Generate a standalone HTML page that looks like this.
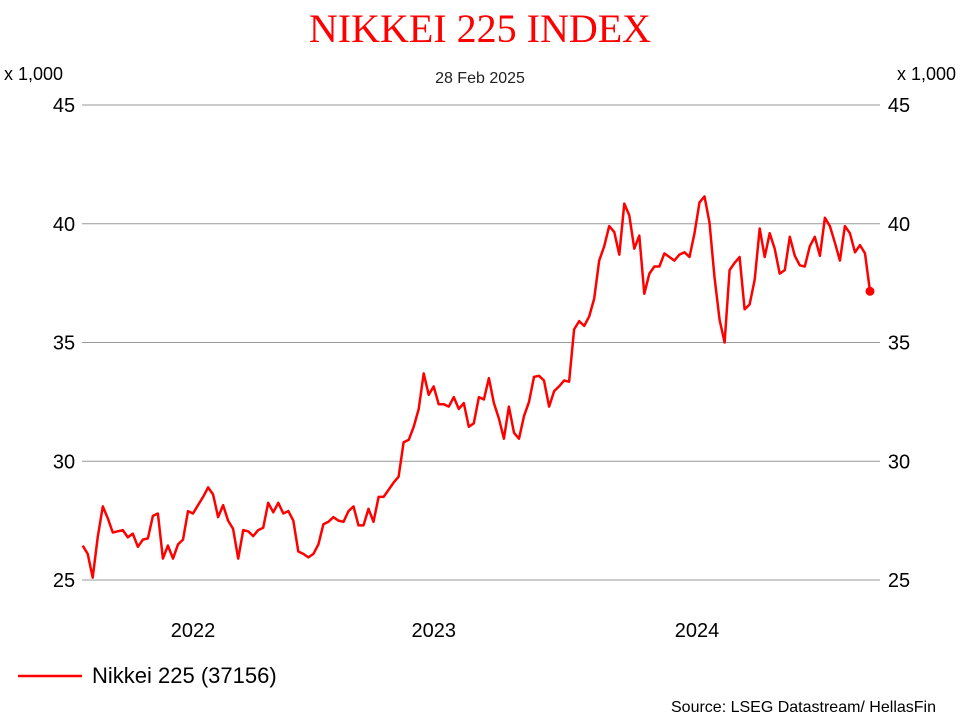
<!DOCTYPE html>
<html><head><meta charset="utf-8">
<style>
body{margin:0;background:#fff;}
svg{display:block;font-family:"Liberation Sans",sans-serif;}
</style></head>
<body>
<svg id="chart" width="960" height="720" viewBox="0 0 960 720">
<text x="480" y="42" text-anchor="middle" font-family="Liberation Serif, serif" font-size="40" fill="#ff0000">NIKKEI 225 INDEX</text>
<text x="480" y="83" text-anchor="middle" font-size="16" fill="#222">28 Feb 2025</text>
<text x="4" y="80" font-size="18" fill="#000">x 1,000</text>
<text x="956" y="80" text-anchor="end" font-size="18" fill="#000">x 1,000</text>
<g id="grid"></g>
<g id="series"></g>
<line x1="18" y1="676" x2="82" y2="676" stroke="#ff0000" stroke-width="2.5"/>
<text x="92" y="683" font-size="22" fill="#000">Nikkei 225 (37156)</text>
<text x="936" y="712" text-anchor="end" font-size="16" fill="#000">Source: LSEG Datastream/ HellasFin</text>
</svg>
<script>
const yTicks = [25, 30, 35, 40, 45];
const yearLabels = ["2022", "2023", "2024"];
const yearIndex = [22, 70, 122.5];
const values = [26.45,26.1,25.1,26.8,28.1,27.6,27.0,27.05,27.1,26.8,26.95,26.4,26.7,26.75,27.7,27.8,25.9,26.45,25.9,26.5,26.7,27.9,27.8,28.15,28.5,28.9,28.6,27.65,28.15,27.5,27.15,25.9,27.1,27.05,26.85,27.1,27.2,28.25,27.85,28.25,27.8,27.9,27.5,26.2,26.1,25.95,26.1,26.5,27.35,27.45,27.65,27.5,27.45,27.9,28.1,27.3,27.3,28.0,27.45,28.5,28.5,28.8,29.1,29.35,30.8,30.9,31.45,32.2,33.7,32.8,33.15,32.4,32.4,32.3,32.7,32.2,32.45,31.45,31.6,32.7,32.6,33.5,32.45,31.8,30.95,32.3,31.2,30.95,31.9,32.5,33.55,33.6,33.4,32.3,32.95,33.15,33.4,33.35,35.55,35.9,35.7,36.1,36.85,38.45,39.05,39.9,39.65,38.7,40.85,40.35,38.95,39.5,37.05,37.9,38.2,38.2,38.75,38.6,38.45,38.7,38.8,38.6,39.6,40.9,41.15,40.05,37.75,35.95,35.0,38.05,38.35,38.6,36.4,36.6,37.65,39.8,38.6,39.6,38.95,37.9,38.05,39.45,38.65,38.25,38.2,39.05,39.45,38.65,40.25,39.9,39.2,38.45,39.9,39.6,38.8,39.1,38.75,37.156];

const NS = "http://www.w3.org/2000/svg";
const X0 = 82.7, X1 = 870, Y25 = 580, Y45 = 105;
const xScale = i => X0 + i * (X1 - X0) / (values.length - 1);
const yScale = v => Y25 - (v - 25) * (Y25 - Y45) / 20;
const grid = document.getElementById("grid");
const series = document.getElementById("series");

yTicks.forEach(t => {
  const y = yScale(t);
  const ln = document.createElementNS(NS, "line");
  ln.setAttribute("x1", 82); ln.setAttribute("x2", 880);
  ln.setAttribute("y1", y); ln.setAttribute("y2", y);
  ln.setAttribute("stroke", "#999"); ln.setAttribute("stroke-width", "1");
  
  
  grid.appendChild(ln);
  const tl = document.createElementNS(NS, "text");
  tl.setAttribute("x", 64); tl.setAttribute("y", y + 7);
  tl.setAttribute("text-anchor", "middle"); tl.setAttribute("font-size", "20");
  tl.textContent = t;
  
  
  grid.appendChild(tl);
  const tr = document.createElementNS(NS, "text");
  tr.setAttribute("x", 899); tr.setAttribute("y", y + 7);
  tr.setAttribute("text-anchor", "middle"); tr.setAttribute("font-size", "20");
  tr.textContent = t;
  
  
  grid.appendChild(tr);
});

yearLabels.forEach((lab, k) => {
  const t = document.createElementNS(NS, "text");
  t.setAttribute("x", xScale(yearIndex[k])); t.setAttribute("y", 637);
  t.setAttribute("text-anchor", "middle"); t.setAttribute("font-size", "20");
  t.textContent = lab;
  
  
  grid.appendChild(t);
});

const pts = values.map((v, i) => xScale(i).toFixed(1) + "," + yScale(v).toFixed(1)).join(" ");
const pl = document.createElementNS(NS, "polyline");
pl.setAttribute("points", pts);
pl.setAttribute("fill", "none"); pl.setAttribute("stroke", "#ff0000");
pl.setAttribute("stroke-width", "2.5"); pl.setAttribute("stroke-linejoin", "round");


series.appendChild(pl);

const last = values.length - 1;
const dot = document.createElementNS(NS, "circle");
dot.setAttribute("cx", xScale(last)); dot.setAttribute("cy", yScale(values[last]));
dot.setAttribute("r", "4.5"); dot.setAttribute("fill", "#ff0000");


series.appendChild(dot);
</script>
</body></html>
